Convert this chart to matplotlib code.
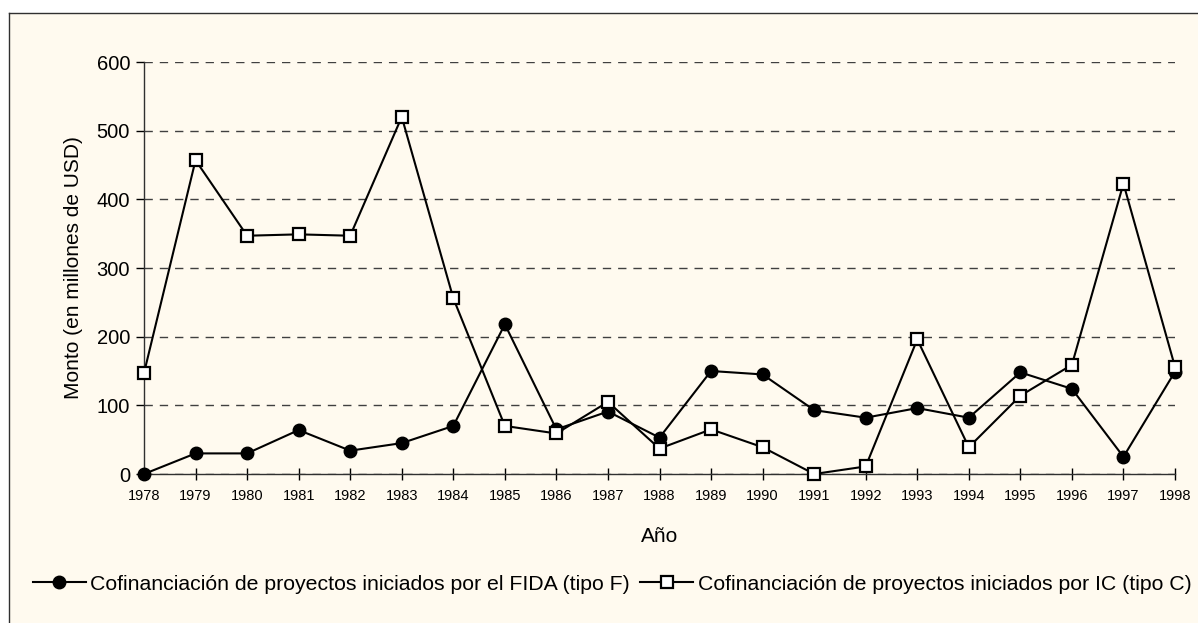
import matplotlib
matplotlib.use("Agg")
import matplotlib.pyplot as plt
from matplotlib.patches import Rectangle
from matplotlib.lines import Line2D

years = list(range(1978, 1999))
fida_f = [0, 30, 30, 64, 34, 45, 70, 218, 65, 91, 53, 150, 145, 93, 82, 96, 82, 148, 124, 25, 149]
ic_c = [147, 457, 347, 349, 347, 520, 256, 70, 59, 105, 37, 65, 39, 0, 11, 196, 39, 114, 159, 423, 156]
yticks = [0, 100, 200, 300, 400, 500, 600]
label_f = "Cofinanciación de proyectos iniciados por el FIDA (tipo F)"
label_c = "Cofinanciación de proyectos iniciados por IC (tipo C)"
xlabel = "Año"
ylabel = "Monto (en millones de USD)"

plt.rcParams['font.family'] = ['Liberation Sans', 'DejaVu Sans']

W, H = 1198, 623
fig = plt.figure(figsize=(W / 100, H / 100), dpi=100, facecolor='white')
cream = '#FFFAEF'

# frame / background
fig.add_artist(Rectangle((9 / W, -0.2), 1.3, 1 - 13 / H + 0.2, transform=fig.transFigure,
                         facecolor=cream, edgecolor='none', zorder=-10))
fig.add_artist(Line2D([9 / W, 9 / W], [0, 1 - 13 / H], transform=fig.transFigure, color='#303030', lw=1.0))
fig.add_artist(Line2D([9 / W, 1.0], [1 - 13 / H, 1 - 13 / H], transform=fig.transFigure, color='#303030', lw=1.0))

ax = fig.add_axes([144 / W, 1 - 474 / H, (1175 - 144) / W, (474 - 62) / H])
ax.set_facecolor('none')

ax.plot(years, fida_f, color='black', lw=1.5, marker='o', markersize=9,
        markerfacecolor='black', markeredgecolor='black', label=label_f, zorder=3, clip_on=False)
ax.plot(years, ic_c, color='black', lw=1.5, marker='s', markersize=8.5,
        markerfacecolor='white', markeredgecolor='black', markeredgewidth=1.6, label=label_c, zorder=4, clip_on=False)

ax.set_xlim(1978, 1998)
ax.set_ylim(0, 600)
ax.set_yticks(yticks)
ax.set_xticks(years)
ax.set_xticklabels([str(y) for y in years], fontsize=10.5)
ax.tick_params(axis='y', labelsize=14.5, direction='out', length=6, width=1, pad=4)
ax.tick_params(axis='x', direction='inout', length=8, width=1, pad=7)

for s in ['top', 'right']:
    ax.spines[s].set_visible(False)
for s in ['left', 'bottom']:
    ax.spines[s].set_color('#303030')
    ax.spines[s].set_linewidth(1.0)

ax.yaxis.grid(True, color='#404040', linestyle=(0, (6, 5)), linewidth=1.0)
ax.set_axisbelow(True)

ax.set_xlabel(xlabel, fontsize=15, labelpad=17)
ax.set_ylabel(ylabel, fontsize=15, labelpad=10)

fig.legend(loc='center', bbox_to_anchor=(612 / W, 1 - 584 / H), ncol=2, frameon=False,
           fontsize=15.3, handlelength=2.5, handletextpad=0.2, columnspacing=0.5,
           borderpad=0, borderaxespad=0)

fig.savefig('out.png', dpi=100, facecolor='white')
